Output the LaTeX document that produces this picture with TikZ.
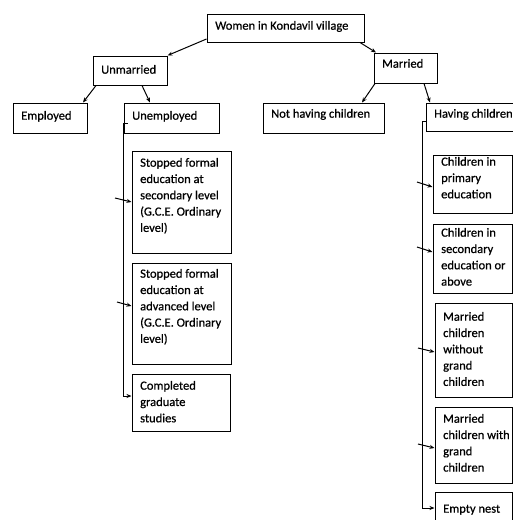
\documentclass[tikz,border=0pt]{standalone}
\usepackage{fontspec}
\setmainfont{Carlito}
\newfontfamily\lblfont{Carlito}[FakeBold=0.6]
\usetikzlibrary{arrows.meta,fit}
\newcommand\mkbox[7]{%
  \node[box,fit={(#2,#3) (#4,#5)}] (#1) {};
  \node[lbl] (#1t) at ([shift={(8.5,#6-10)}]#1.north west) {\rule{0pt}{10pt}#7};}
\begin{document}
\begin{tikzpicture}[x=1pt,y=-1pt,
  box/.style={draw,line width=1pt,inner sep=0pt},
  lbl/.style={inner sep=0pt,align=left,anchor=north west,font=\lblfont\fontsize{12.5}{16.3}\selectfont},
  con/.style={line width=1pt},
  tip/.style={con,-{Stealth[length=5pt,width=4pt]}}]
\useasboundingbox (0,0) rectangle (513,520);
\clip (0,0) rectangle (513,520);
\fill[white] (0,0) rectangle (513,520);
% top levels
\mkbox{women}{207}{14}{364}{42}{16}{Women in Kondavil village}
\mkbox{unmarried}{93}{56}{167}{85}{18}{Unmarried}
\mkbox{married}{374}{53}{437}{83}{15}{Married}
\mkbox{employed}{13}{103}{87}{133}{17}{Employed}
\mkbox{unemployed}{124}{103}{219}{133}{17}{Unemployed}
\mkbox{nothaving}{263}{103}{384}{133}{15}{Not having children}
\mkbox{having}{426}{103}{530}{131}{15}{Having children}
% left column
\mkbox{s1}{132}{151}{231}{253}{16}{Stopped formal\\education at\\secondary level\\(G.C.E. Ordinary\\level)}
\mkbox{s2}{132}{263}{231}{364}{15}{Stopped formal\\education at\\advanced level\\(G.C.E. Ordinary\\level)}
\mkbox{s3}{132}{374}{230}{431}{16}{Completed\\graduate\\studies}
% right column
\mkbox{r1}{433}{155}{512}{213}{11}{Children in\\primary\\education}
\mkbox{r2}{433}{224}{512}{293}{13}{Children in\\secondary\\education or\\above}
\mkbox{r3}{435}{303}{512}{397}{18}{Married\\children\\without\\grand\\children}
\mkbox{r4}{435}{407}{512}{483}{16}{Married\\children with\\grand\\children}
\mkbox{r5}{435}{492}{512}{535}{21}{Empty nest}
% connectors
\draw[tip] (women.south west |- 0,39) -- (unmarried.north east);
\draw[tip] (360,0 |- women.south) -- (376,0 |- married.north);
\draw[tip] (96,0 |- unmarried.south) -- (83,0 |- employed.north);
\draw[tip] (142,0 |- unmarried.south) -- (150,0 |- unemployed.north);
\draw[tip] (375,0 |- married.south) -- (362,0 |- nothaving.north);
\draw[tip] (424,0 |- married.south) -- (430,0 |- having.north);
% left trunk
\coordinate (ltop) at (123.5,123);
\draw[con] (ltop) -- +(4.5,0);
\draw[tip] (ltop) |- (s3.west |- 0,396);
\coordinate (la) at (115,198);
\coordinate (lb) at (117,302);
\draw[tip] (la) -- (s1.west |- 0,202);
\draw[tip] (lb) -- (s2.west |- 0,306);
% right trunk
\coordinate (rtop) at (422,121);
\draw[tip] (having.west |- rtop) -- (rtop) |- (r5.west |- 0,508);
\coordinate (ra) at (417,182);
\coordinate (rb) at (417,247);
\coordinate (rc) at (418,348);
\coordinate (rd) at (418,444);
\draw[tip] (ra) -- (r1.west |- 0,187);
\draw[tip] (rb) -- (r2.west |- 0,252);
\draw[tip] (rc) -- (r3.west |- 0,352);
\draw[tip] (rd) -- (r4.west |- 0,448);
\end{tikzpicture}
\end{document}
